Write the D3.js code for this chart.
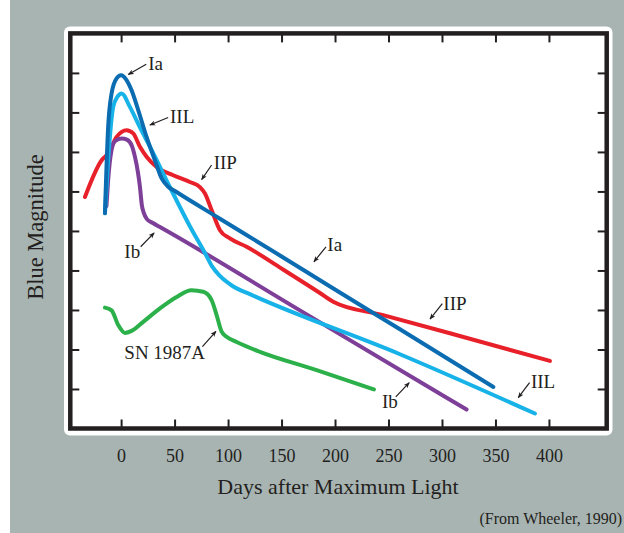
<!DOCTYPE html>
<html>
<head>
<meta charset="utf-8">
<script src="https://cdn.jsdelivr.net/npm/d3@7"></script>
<style>
  html, body { margin: 0; padding: 0; background: #ffffff; }
  svg { display: block; }
  text { font-family: "Liberation Serif", "DejaVu Serif", serif; fill: #231f20; }
</style>
</head>
<body>
<svg id="chart" width="624" height="533"></svg>
<script>
// Days after maximum light for the axis ticks
const dayTicks = [0, 50, 100, 150, 200, 250, 300, 350, 400];
// Magnitude ticks (relative blue magnitude, fainter downward)
const magTicks = [1, 2, 3, 4, 5, 6, 7, 8, 9];

// Light curves: [days after maximum, relative blue magnitude]
const typeIa = [
  [-15.1, 4.55], [-12.1, 2.36], [-8.9, 1.52], [-4.2, 1.14], [0, 1.06],
  [5.1, 1.18], [9.8, 1.44], [16, 1.94], [23.8, 2.62], [31.6, 3.21],
  [37.9, 3.67], [44, 3.88], [50.3, 3.99], [92.4, 4.69], [148.5, 5.62],
  [195, 6.40], [260.7, 7.49], [348, 8.95]
];
const typeIIL = [
  [-15.1, 4.55], [-12.1, 3.21], [-7.4, 1.86], [-3.6, 1.61], [0.5, 1.52],
  [8.2, 1.86], [17.6, 2.38], [28.5, 2.95], [45.6, 3.89], [64.3, 4.88],
  [78.4, 5.56], [84.9, 5.89], [92.4, 6.14], [104.5, 6.40], [120.4, 6.60],
  [260.7, 8.12], [386.9, 9.62]
];
const typeIIP = [
  [-33.8, 4.14], [-18.2, 3.21], [-12.1, 3.04], [-4.2, 2.62], [5.1, 2.45],
  [11.3, 2.53], [17.6, 2.87], [23.8, 3.12], [33.2, 3.38], [48.7, 3.59],
  [64.3, 3.76], [73.7, 3.89], [78.4, 4.05], [84.6, 4.47], [92.4, 4.98],
  [101.7, 5.19], [117.3, 5.40], [150.5, 5.96], [185.9, 6.57], [198.3, 6.79],
  [245, 7.13], [307.4, 7.59], [400.9, 8.29]
];
const typeIb = [
  [-13.7, 4.37], [-12.1, 3.71], [-8.9, 2.95], [-5.8, 2.73], [0.5, 2.66],
  [5.4, 2.69], [10.1, 2.85], [12.9, 3.12], [15.7, 3.51], [17.6, 3.88],
  [19.4, 4.35], [21.3, 4.55], [24.1, 4.70], [29.7, 4.80], [36.3, 4.90],
  [167.2, 7.01], [323, 9.52]
];
const sn1987A = [
  [-15.1, 6.94], [-8.9, 7.01], [-2.7, 7.38], [3.6, 7.58], [9.8, 7.53],
  [20.7, 7.30], [36.3, 6.96], [51.9, 6.67], [65.9, 6.50], [76.8, 6.54],
  [84.6, 6.75], [89.3, 7.13], [94, 7.55], [98.6, 7.68], [108, 7.81],
  [129.8, 8.06], [182.8, 8.52], [236.4, 9.01]
];

const seriesNames = ["IIP", "Ib", "SN 1987A", "IIL", "Ia"];
const seriesData = [typeIIP, typeIb, sn1987A, typeIIL, typeIa];
const seriesColors = ["#e8202a", "#7d3f98", "#2bb04a", "#17b2e8", "#0b6cb2"];

// Curve labels: text, label anchor [day, mag], arrow tail and head [day, mag]
const labelText = ["Ia", "IIL", "IIP", "Ib", "SN 1987A", "Ia", "IIP", "IIL", "Ib"];
const labelPos = [
  [25.3, 0.93], [45.7, 2.27], [86.6, 3.43], [3.0, 5.68], [3.0, 8.24],
  [192.8, 5.51], [301.3, 6.99], [383.2, 8.98], [243.9, 9.47]
];
const arrowFrom = [
  [23.5, 0.78], [44.0, 2.13], [84.6, 3.33], [18.3, 5.40], [76.0, 7.93],
  [191.6, 5.40], [300.3, 6.84], [381.9, 8.84], [256.8, 9.20]
];
const arrowTo = [
  [6.7, 1.04], [26.9, 2.32], [75.3, 3.70], [30.9, 5.05], [88.7, 7.54],
  [180.3, 5.78], [288.8, 7.23], [371.3, 9.22], [269.4, 8.84]
];

const svg = d3.select("#chart");
const W = 624, H = 533;

// page background
svg.append("rect").attr("x", 0).attr("y", 0).attr("width", W).attr("height", H).attr("fill", "#ffffff");
svg.append("rect").attr("x", 10).attr("y", 0).attr("width", W - 10).attr("height", H).attr("fill", "#a8b4b2");

// white card behind the plot
svg.append("rect")
  .attr("x", 64).attr("y", 26.5).attr("width", 548.5).attr("height", 409)
  .attr("rx", 6).attr("ry", 6).attr("fill", "#ffffff");

const plot = { left: 70.3, right: 606.7, top: 33.4, bottom: 428.5 };

const x = d3.scaleLinear().domain([-47.5, 454]).range([plot.left, plot.right]);
const y = d3.scaleLinear().domain([0, 10]).range([plot.top, plot.bottom]);

// axes with inward ticks on all four sides
function styleAxis(g) {
  g.select(".domain").remove();
  g.selectAll(".tick line").attr("stroke", "#231f20").attr("stroke-width", 2);
}

svg.append("g")
  .attr("transform", `translate(0,${plot.bottom})`)
  .call(d3.axisBottom(x).tickValues(dayTicks).tickSize(-9).tickPadding(21).tickFormat(d3.format("d")))
  .call(styleAxis)
  .call(g => g.selectAll(".tick text")
    .attr("font-family", "Liberation Serif").attr("font-size", 18).attr("fill", "#231f20"));

svg.append("g")
  .attr("transform", `translate(0,${plot.top})`)
  .call(d3.axisTop(x).tickValues(dayTicks).tickSize(-9).tickFormat(""))
  .call(styleAxis);

svg.append("g")
  .attr("transform", `translate(${plot.left},0)`)
  .call(d3.axisLeft(y).tickValues(magTicks).tickSize(-9).tickFormat(""))
  .call(styleAxis);

svg.append("g")
  .attr("transform", `translate(${plot.right},0)`)
  .call(d3.axisRight(y).tickValues(magTicks).tickSize(-9).tickFormat(""))
  .call(styleAxis);

// light curves
const line = d3.line()
  .x(d => x(d[0]))
  .y(d => y(d[1]))
  .curve(d3.curveMonotoneX);

svg.append("g")
  .selectAll("path")
  .data(seriesData)
  .join("path")
  .attr("d", line)
  .attr("fill", "none")
  .attr("stroke", (d, i) => seriesColors[i])
  .attr("stroke-width", 4)
  .attr("stroke-linecap", "round")
  .attr("stroke-linejoin", "round");

// frame
svg.append("rect")
  .attr("x", plot.left).attr("y", plot.top)
  .attr("width", plot.right - plot.left).attr("height", plot.bottom - plot.top)
  .attr("fill", "none").attr("stroke", "#231f20").attr("stroke-width", 4.5);

// arrowhead marker
svg.append("defs").append("marker")
  .attr("id", "head")
  .attr("viewBox", "0 0 10 10")
  .attr("refX", 9).attr("refY", 5)
  .attr("markerWidth", 6).attr("markerHeight", 6)
  .attr("markerUnits", "userSpaceOnUse")
  .attr("orient", "auto")
  .append("path")
  .attr("d", "M0,1 L10,5 L0,9 L2.5,5 Z")
  .attr("fill", "#231f20");

const ann = svg.append("g");
ann.selectAll("line")
  .data(labelText)
  .join("line")
  .attr("x1", (d, i) => x(arrowFrom[i][0]))
  .attr("y1", (d, i) => y(arrowFrom[i][1]))
  .attr("x2", (d, i) => x(arrowTo[i][0]))
  .attr("y2", (d, i) => y(arrowTo[i][1]))
  .attr("stroke", "#231f20")
  .attr("stroke-width", 1.2)
  .attr("marker-end", "url(#head)");

ann.selectAll("text")
  .data(labelText)
  .join("text")
  .attr("x", (d, i) => x(labelPos[i][0]))
  .attr("y", (d, i) => y(labelPos[i][1]))
  .attr("font-size", 19)
  .text(d => d);

// axis titles
svg.append("text")
  .attr("x", 338).attr("y", 494)
  .attr("text-anchor", "middle")
  .attr("font-size", 22)
  .text("Days after Maximum Light");

svg.append("text")
  .attr("transform", "translate(43,227) rotate(-90)")
  .attr("text-anchor", "middle")
  .attr("font-size", 22.5)
  .text("Blue Magnitude");

svg.append("text")
  .attr("x", 622).attr("y", 524)
  .attr("text-anchor", "end")
  .attr("font-size", 16)
  .text("(From Wheeler, 1990)");
</script>
</body>
</html>
